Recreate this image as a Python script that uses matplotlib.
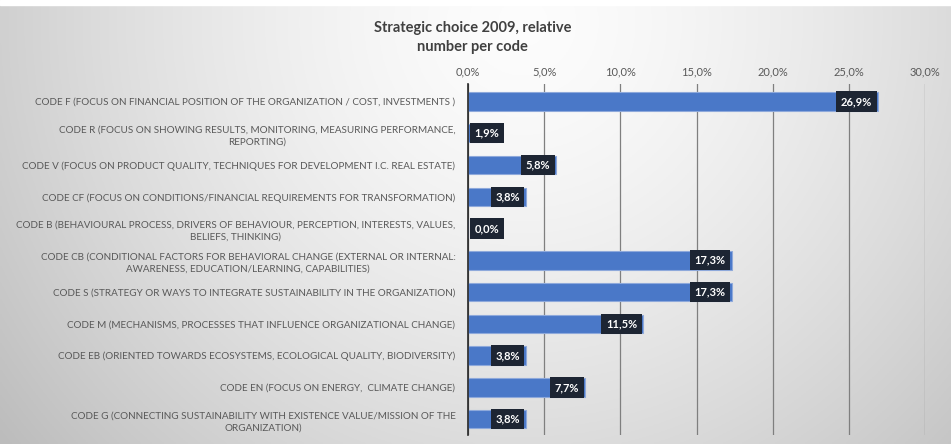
import matplotlib.pyplot as plt
import numpy as np
from matplotlib.ticker import FuncFormatter

# Data
codes = [
    "CODE F (FOCUS ON FINANCIAL POSITION OF THE ORGANIZATION / COST, INVESTMENTS )",
    "CODE R (FOCUS ON SHOWING RESULTS, MONITORING, MEASURING PERFORMANCE,\nREPORTING)",
    "CODE V (FOCUS ON PRODUCT QUALITY, TECHNIQUES FOR DEVELOPMENT I.C. REAL ESTATE)",
    "CODE CF (FOCUS ON CONDITIONS/FINANCIAL REQUIREMENTS FOR TRANSFORMATION)",
    "CODE B (BEHAVIOURAL PROCESS, DRIVERS OF BEHAVIOUR, PERCEPTION, INTERESTS, VALUES,\nBELIEFS, THINKING)",
    "CODE CB (CONDITIONAL FACTORS FOR BEHAVIORAL CHANGE (EXTERNAL OR INTERNAL:\nAWARENESS, EDUCATION/LEARNING, CAPABILITIES)",
    "CODE S (STRATEGY OR WAYS TO INTEGRATE SUSTAINABILITY IN THE ORGANIZATION)",
    "CODE M (MECHANISMS, PROCESSES THAT INFLUENCE ORGANIZATIONAL CHANGE)",
    "CODE EB (ORIENTED TOWARDS ECOSYSTEMS, ECOLOGICAL QUALITY, BIODIVERSITY)",
    "CODE EN (FOCUS ON ENERGY,  CLIMATE CHANGE)",
    "CODE G (CONNECTING SUSTAINABILITY WITH EXISTENCE VALUE/MISSION OF THE\nORGANIZATION)",
]
share = [26.9, 1.9, 5.8, 3.8, 0.0, 17.3, 17.3, 11.5, 3.8, 7.7, 3.8]
ticks = [0, 5, 10, 15, 20, 25, 30]

plt.rcParams['font.family'] = ['Lato', 'DejaVu Sans']

fig = plt.figure(figsize=(9.51, 4.44), dpi=100)

# grey-white-grey background gradient
bg = fig.add_axes([0, 0, 1, 1], zorder=-10)
xx, yy = np.meshgrid(np.linspace(0, 1, 400), np.linspace(0, 1, 200))
d = np.sqrt(((xx - 0.55) / 0.7) ** 2 + ((yy - 0.05) / 1.5) ** 2)
shade = np.clip(0.99 - 0.25 * d ** 1.5, 0.74, 1)
bg.imshow(np.dstack([shade, shade, shade]), aspect='auto', extent=[0, 1, 1, 0])
bg.axhspan(0.0, 0.012, color='white')
bg.axis('off')
bg.set_xlim(0, 1)
bg.set_ylim(1, 0)

ax = fig.add_axes([0.492, 0.020, 0.481, 0.791])
ax.patch.set_alpha(0)
y = np.arange(len(codes))
ax.barh(y, share, height=0.58, color='#4a78c8', edgecolor='#8EA9DB', linewidth=0.8, zorder=3)

ax.set_xlim(0, 30)
ax.set_ylim(len(codes) - 0.5, -0.55)
ax.set_xticks(ticks)
ax.xaxis.set_major_formatter(FuncFormatter(lambda v, p: f"{v:.1f}%".replace('.', ',')))
ax.xaxis.tick_top()
ax.tick_params(axis='x', length=0, pad=5, labelsize=8, labelcolor='#595959')
ax.set_yticks(y)
ax.set_yticklabels(codes)
for lab in ax.get_yticklabels():
    lab.set_multialignment('center')
    lab.set_linespacing(1.5)
ax.tick_params(axis='y', length=0, pad=9, labelsize=7.1, labelcolor='#595959')
ax.grid(axis='x', color='#7f7f7f', linewidth=0.9, zorder=0)
for s in ['top', 'right', 'bottom']:
    ax.spines[s].set_visible(False)
ax.spines['left'].set_color('#262626')
ax.spines['left'].set_linewidth(1.2)
ax.spines['left'].set_zorder(4)

# data labels in dark boxes at the bar ends
for yi, v in zip(y, share):
    txt = f"{v:.1f}%".replace('.', ',')
    style = dict(va='center', fontsize=8.0, fontweight='bold', color='white', zorder=5,
                 bbox=dict(boxstyle='square,pad=0.42', fc='#1d2533', ec='none'))
    if v < 2.5:
        ax.text(0.45, yi, txt, ha='left', **style)
    else:
        ax.text(v - 0.4, yi, txt, ha='right', **style)

fig.text(0.497, 0.915, "Strategic choice 2009, relative\nnumber per code", ha='center', va='center',
         fontsize=10.5, fontweight='bold', color='#404040', linespacing=1.45)

fig.savefig('out.png', dpi=100)
